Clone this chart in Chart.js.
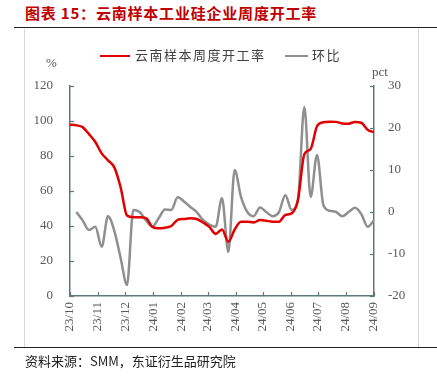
<!DOCTYPE html>
<html><head><meta charset="utf-8">
<script src="https://cdn.jsdelivr.net/npm/chart.js@4.4.0/dist/chart.umd.min.js"></script>
<style>
html,body{margin:0;padding:0;background:#fff;}
body{width:437px;height:383px;position:relative;overflow:hidden;font-family:"Noto Sans CJK SC",sans-serif;}
#c{position:absolute;left:0;top:0;}
.abs{position:absolute;white-space:nowrap;}
#title{left:25px;top:3px;font-size:15px;font-weight:bold;color:#C00000;letter-spacing:0.8px;line-height:20px;}
#rule1{left:14px;top:27px;width:423px;height:0;border-top:1.5px solid #222;}
#rule2{left:14px;top:347px;width:423px;height:0;border-top:1.5px solid #222;}
#vl{left:24px;top:29px;width:0;height:318px;border-left:1px solid #d6d6d6;}
#vr{left:418px;top:29px;width:0;height:318px;border-left:1px solid #d6d6d6;}
#src{left:25px;top:351px;font-size:13px;color:#222;line-height:20px;}
.leg{font-size:13px;color:#404040;letter-spacing:1.5px;line-height:18px;}
.sw{height:0;}
.unit{font-family:"Liberation Serif",serif;font-size:13px;color:#595959;line-height:16px;}
</style></head><body>
<div id="title" class="abs">图表 15：云南样本工业硅企业周度开工率</div>
<div id="rule1" class="abs"></div>
<div id="vl" class="abs"></div>
<div id="vr" class="abs"></div>
<canvas id="c" width="437" height="383"></canvas>
<div class="abs sw" style="left:100px;top:55px;width:30px;border-top:2.5px solid #E00000;"></div>
<div class="abs leg" style="left:135px;top:46px;">云南样本周度开工率</div>
<div class="abs sw" style="left:285px;top:55px;width:23px;border-top:2.5px solid #8f8f8f;"></div>
<div class="abs leg" style="left:312px;top:46px;">环比</div>
<div class="abs unit" style="left:46px;top:55px;">%</div>
<div class="abs unit" style="left:372px;top:64px;">pct</div>
<div id="rule2" class="abs"></div>
<div id="src" class="abs">资料来源：SMM，东证衍生品研究院</div>
<script>
// Weekly observation dates
const weeks = [
 '2023-10-01','2023-10-08','2023-10-15','2023-10-22','2023-10-29',
 '2023-11-05','2023-11-12','2023-11-19','2023-11-26',
 '2023-12-03','2023-12-10','2023-12-17','2023-12-24','2023-12-31',
 '2024-01-07','2024-01-14','2024-01-21','2024-01-28',
 '2024-02-04','2024-02-11','2024-02-18','2024-02-25',
 '2024-03-03','2024-03-10','2024-03-17','2024-03-24','2024-03-31',
 '2024-04-07','2024-04-14','2024-04-21','2024-04-28',
 '2024-05-05','2024-05-12','2024-05-19','2024-05-26',
 '2024-06-02','2024-06-09','2024-06-16','2024-06-23','2024-06-30',
 '2024-07-07','2024-07-14','2024-07-21','2024-07-28',
 '2024-08-04','2024-08-11','2024-08-18','2024-08-25','2024-09-01'
];
// 云南样本周度开工率 (%) — left axis
const operatingRate = [
 97.9,97.5,96.5,92.5,88.0,
 81.5,77.5,73.5,62.0,
 46.0,45.0,45.0,44.5,39.5,
 38.7,39.0,40.0,43.5,
 44.0,44.4,44.0,42.0,
 39.5,35.5,38.0,31.0,38.0,
 42.5,42.5,42.0,43.4,
 43.0,42.5,42.5,46.3,
 47.2,55.0,81.0,84.0,97.0,
 99.3,99.6,99.5,98.6,
 98.5,99.5,99.0,95.0,93.5
];
// 环比 (pct) — right axis
const wowChange = [
 null,0.0,-2.0,-4.3,-3.5,
 -8.3,-1.0,-4.5,-11.0,
 -17.4,0.5,0.0,-2.0,-3.5,
 -1.5,0.6,0.5,3.5,
 2.5,1.2,0.0,-1.9,
 -3.0,-3.5,3.3,-9.5,10.0,
 3.6,0.0,-1.0,1.1,
 0.0,-1.0,0.0,4.0,
 0.5,3.0,25.0,3.6,13.6,
 1.7,0.3,0.0,-1.0,
 0.0,1.0,-0.5,-3.5,-2.0
];
// Month tick dates and labels
const monthTicks = ['2023-10-01','2023-11-01','2023-12-01','2024-01-01','2024-02-01','2024-03-01',
 '2024-04-01','2024-05-01','2024-06-01','2024-07-01','2024-08-01','2024-09-01'];
const monthLabels = ['23/10','23/11','23/12','24/01','24/02','24/03','24/04','24/05','24/06','24/07','24/08','24/09'];
const leftTicks = {min:0,max:120,step:20};
const rightTicks = {min:-20,max:30,step:10};

const DAY = 86400000;
const t0 = Date.parse(weeks[0]);
const dayOf = d => Math.round((Date.parse(d) - t0) / DAY);
const monthDays = monthTicks.map(dayOf);
const redData = weeks.map((d,i)=>({x:dayOf(d), y:operatingRate[i]}));
const grayData = weeks.map((d,i)=>({x:dayOf(d), y:wowChange[i]}));

const axisColor = '#5d7878';
const labelColor = '#595959';
const serif = "'Liberation Serif', 'Times New Roman', serif";

const innerTicks = {
  id:'innerTicks',
  afterDraw(chart){
    const ctx = chart.ctx, a = chart.chartArea, s = chart.scales;
    ctx.save();
    ctx.strokeStyle = axisColor; ctx.lineWidth = 1.2;
    s.x.ticks.forEach(t=>{ const p = Math.round(s.x.getPixelForValue(t.value))+0.5;
      ctx.beginPath(); ctx.moveTo(p,a.bottom); ctx.lineTo(p,a.bottom-4); ctx.stroke(); });
    s.yL.ticks.forEach(t=>{ const p = Math.round(s.yL.getPixelForValue(t.value))+0.5;
      ctx.beginPath(); ctx.moveTo(a.left,p); ctx.lineTo(a.left+4,p); ctx.stroke(); });
    s.yR.ticks.forEach(t=>{ const p = Math.round(s.yR.getPixelForValue(t.value))+0.5;
      ctx.beginPath(); ctx.moveTo(a.right,p); ctx.lineTo(a.right-4,p); ctx.stroke(); });
    ctx.restore();
  }
};

new Chart(document.getElementById('c'), {
  type:'line',
  data:{datasets:[
    {label:'云南样本周度开工率', data:redData, yAxisID:'yL', borderColor:'#E00000', borderWidth:2.5,
     pointRadius:0, cubicInterpolationMode:'monotone', fill:false},
    {label:'环比', data:grayData, yAxisID:'yR', borderColor:'#8f8f8f', borderWidth:2.5,
     pointRadius:0, cubicInterpolationMode:'monotone', fill:false, spanGaps:false}
  ]},
  options:{
    responsive:false, animation:false, devicePixelRatio:1,
    layout:{padding:{top:86,bottom:39,left:0,right:0}},
    plugins:{legend:{display:false}, tooltip:{enabled:false}},
    scales:{
      x:{type:'linear', min:monthDays[0], max:monthDays[monthDays.length-1],
         afterBuildTicks(sc){ sc.ticks = monthDays.map(v=>({value:v})); },
         afterFit(sc){ sc.height = 48; },
         grid:{display:true, drawOnChartArea:false, drawTicks:false, color:'rgba(0,0,0,0)'},
         border:{display:true, color:axisColor, width:1.5},
         ticks:{autoSkip:false, minRotation:90, maxRotation:90, padding:6, color:labelColor,
                font:{family:serif, size:13},
                callback:(v,i)=>monthLabels[i]}},
      yL:{type:'linear', position:'left', min:leftTicks.min, max:leftTicks.max,
          afterFit(sc){ sc.width = 70; },
          grid:{display:true, drawOnChartArea:false, drawTicks:false, color:'rgba(0,0,0,0)'},
          border:{display:true, color:axisColor, width:1.5},
          ticks:{stepSize:leftTicks.step, padding:17, color:labelColor, font:{family:serif, size:13}}},
      yR:{type:'linear', position:'right', min:rightTicks.min, max:rightTicks.max,
          afterFit(sc){ sc.width = 63; },
          grid:{display:true, drawOnChartArea:false, drawTicks:false, color:'rgba(0,0,0,0)'},
          border:{display:true, color:axisColor, width:1.5},
          ticks:{stepSize:rightTicks.step, padding:14, color:labelColor, font:{family:serif, size:13}}}
    }
  },
  plugins:[innerTicks]
});
</script>
</body></html>
